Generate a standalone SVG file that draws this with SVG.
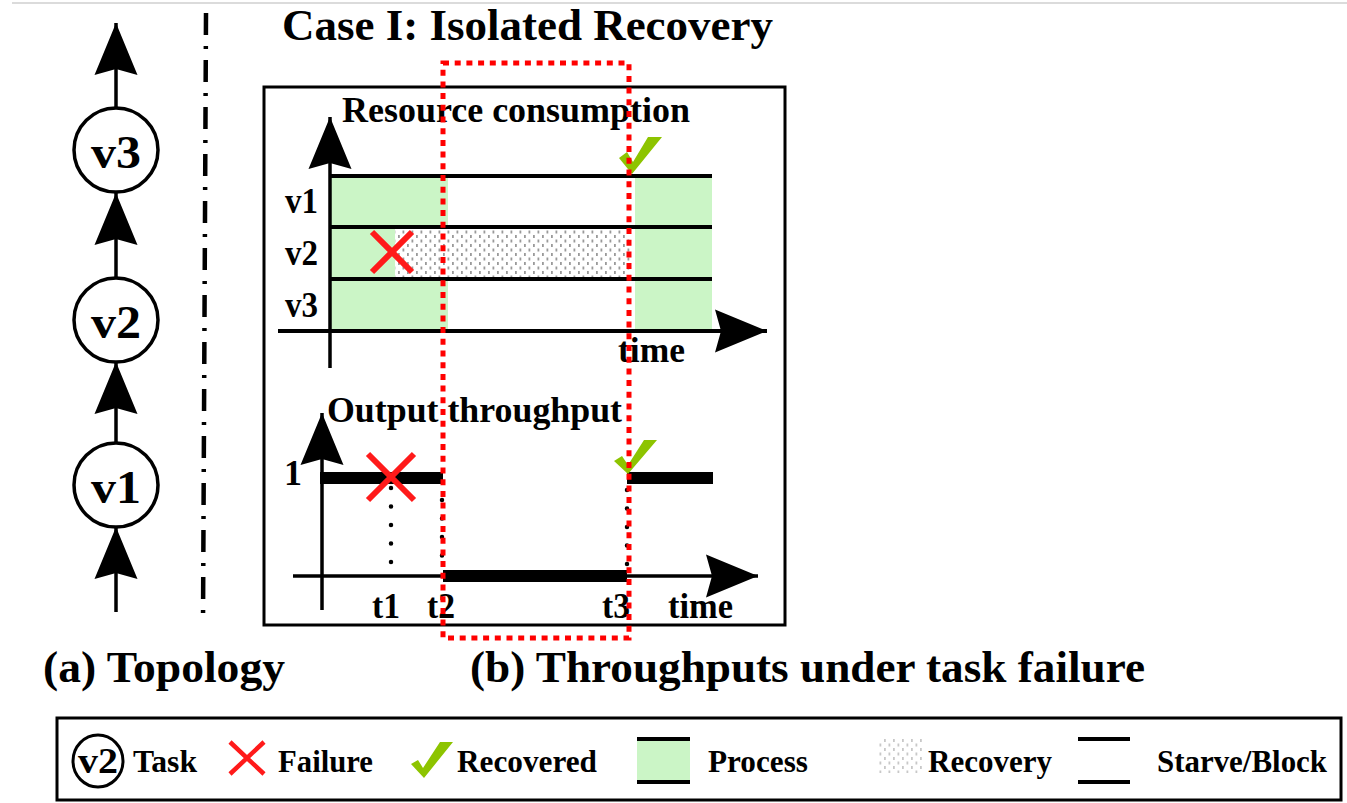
<svg xmlns="http://www.w3.org/2000/svg" width="1347" height="803" viewBox="0 0 1347 803">
<style>
text{font-family:"Liberation Serif","Times New Roman",serif;font-weight:bold;fill:#000}
.t45{font-size:44px}
.t34{font-size:36px}
.t30{font-size:32px}
.node{fill:#fff;stroke:#000;stroke-width:3.5}
.ln{stroke:#000;stroke-width:3.5;fill:none}
.row{stroke:#000;stroke-width:4;fill:none}
.thick{stroke:#000;stroke-width:12;fill:none}
.x{stroke:#ff1a1a;stroke-width:6;fill:none}
.chk{fill:#8dc400}
.green{fill:#cbf5c6}
</style>
<defs>
<marker id="ah" markerUnits="userSpaceOnUse" viewBox="-56 -25 60 50" markerWidth="60" markerHeight="50" refX="0" refY="0" orient="auto">
<path d="M0,0 L-52,-21.5 L-46,0 L-52,21.5 Z" fill="#000"/>
</marker>
<pattern id="dots" patternUnits="userSpaceOnUse" width="9" height="9">
<rect x="2" y="1" width="1.8" height="3" fill="#9a9a9a"/>
<rect x="6.5" y="5.5" width="1.8" height="3" fill="#9a9a9a"/>
</pattern>
<pattern id="dotsL" patternUnits="userSpaceOnUse" width="9" height="9">
<rect x="2" y="1" width="1.8" height="3" fill="#c8c8c8"/>
<rect x="6.5" y="5.5" width="1.8" height="3" fill="#c8c8c8"/>
</pattern>
</defs>
<rect width="1347" height="803" fill="#fff"/>
<line x1="12" y1="3" x2="1347" y2="3" stroke="#cfcfcf" stroke-width="1.5"/>

<!-- topology connectors -->
<g id="connectors">
<line class="ln" x1="116" y1="612" x2="116" y2="527" marker-end="url(#ah)"/>
<line class="ln" x1="116" y1="443" x2="116" y2="362" marker-end="url(#ah)"/>
<line class="ln" x1="116" y1="277" x2="116" y2="193" marker-end="url(#ah)"/>
<line class="ln" x1="116" y1="108" x2="116" y2="23" marker-end="url(#ah)"/>
</g>
<g id="node-v1">
<circle class="node" cx="116" cy="485" r="42"/>
<text x="116" y="503" font-size="46" text-anchor="middle" textLength="50" lengthAdjust="spacingAndGlyphs">v1</text>
</g>
<g id="node-v2">
<circle class="node" cx="116" cy="320" r="42"/>
<text x="116" y="338" font-size="46" text-anchor="middle" textLength="50" lengthAdjust="spacingAndGlyphs">v2</text>
</g>
<g id="node-v3">
<circle class="node" cx="116" cy="150" r="42"/>
<text x="116" y="168" font-size="46" text-anchor="middle" textLength="50" lengthAdjust="spacingAndGlyphs">v3</text>
</g>

<!-- separator -->
<line x1="206" y1="13" x2="203" y2="623" stroke="#000" stroke-width="4.5" stroke-dasharray="22 11 3 11"/>

<!-- title -->
<text class="t45" x="282" y="40" textLength="491" lengthAdjust="spacingAndGlyphs">Case I: Isolated Recovery</text>

<!-- main box -->
<rect x="264" y="87" width="521" height="538" fill="none" stroke="#000" stroke-width="3"/>

<!-- resource consumption chart -->
<g id="resource-chart">
<rect class="green" x="330" y="176" width="118" height="51"/>
<rect class="green" x="330" y="227" width="65" height="52"/>
<rect class="green" x="330" y="279" width="118" height="52"/>
<rect class="green" x="635" y="176" width="77" height="155"/>
<rect x="395" y="229" width="235" height="48" fill="url(#dots)"/>
<line class="row" x1="330" y1="176" x2="712" y2="176"/>
<line class="row" x1="330" y1="227" x2="712" y2="227"/>
<line class="row" x1="330" y1="279" x2="712" y2="279"/>
<line class="ln" x1="330" y1="368" x2="330" y2="117" marker-end="url(#ah)"/>
<line class="row" x1="278" y1="331" x2="767" y2="331" marker-end="url(#ah)"/>
<text class="t34" x="342" y="122" textLength="348" lengthAdjust="spacingAndGlyphs">Resource consumption</text>
<text class="t34" x="285" y="213" textLength="33" lengthAdjust="spacingAndGlyphs">v1</text>
<text class="t34" x="285" y="265" textLength="33" lengthAdjust="spacingAndGlyphs">v2</text>
<text class="t34" x="285" y="317" textLength="33" lengthAdjust="spacingAndGlyphs">v3</text>
<text class="t34" x="618" y="362" textLength="67" lengthAdjust="spacingAndGlyphs">time</text>
<path class="x" d="M372,232 L412,272 M412,232 L372,272"/>
<polygon class="chk" points="619,158 627,152 633,162 648,137 662,137 632,174"/>
</g>

<!-- output throughput chart -->
<g id="throughput-chart">
<line class="ln" x1="322" y1="610" x2="322" y2="413" marker-end="url(#ah)"/>
<line class="ln" x1="293" y1="576" x2="758" y2="576" marker-end="url(#ah)"/>
<line class="thick" x1="320" y1="478" x2="443" y2="478"/>
<line class="thick" x1="627" y1="478" x2="713" y2="478"/>
<line class="thick" x1="443" y1="576" x2="627" y2="576"/>
<g stroke="#000" stroke-width="4.5" stroke-linecap="round" stroke-dasharray="0 18.5">
<line x1="391" y1="488" x2="391" y2="563"/>
<line x1="442" y1="500" x2="442" y2="560"/>
<line x1="627" y1="490" x2="627" y2="565"/>
</g>
<text class="t34" x="327" y="422" textLength="295" lengthAdjust="spacingAndGlyphs">Output throughput</text>
<text class="t34" x="284" y="485">1</text>
<text class="t34" x="372" y="618" textLength="28" lengthAdjust="spacingAndGlyphs">t1</text>
<text class="t34" x="427" y="618" textLength="28" lengthAdjust="spacingAndGlyphs">t2</text>
<text class="t34" x="602" y="618" textLength="28" lengthAdjust="spacingAndGlyphs">t3</text>
<text class="t34" x="668" y="618" textLength="65" lengthAdjust="spacingAndGlyphs">time</text>
<path class="x" d="M368,454 L414,500 M414,454 L368,500" stroke="#ff3535"/>
<polygon class="chk" points="614,461 622,456 628,465 644,440 657,440 628,474"/>
</g>

<!-- red dotted highlight -->
<rect x="443" y="63" width="186" height="575" fill="none" stroke="#ff0000" stroke-width="5" stroke-dasharray="6 5.7"/>

<!-- captions -->
<text class="t45" x="43" y="682" textLength="242" lengthAdjust="spacingAndGlyphs">(a) Topology</text>
<text class="t45" x="470" y="682" textLength="675" lengthAdjust="spacingAndGlyphs">(b) Throughputs under task failure</text>

<!-- legend -->
<g id="legend">
<rect x="57" y="718" width="1284" height="82" fill="none" stroke="#000" stroke-width="3"/>
<ellipse cx="98" cy="761" rx="25" ry="26" fill="#fff" stroke="#000" stroke-width="3"/>
<text x="98" y="773" font-size="35" text-anchor="middle" textLength="40" lengthAdjust="spacingAndGlyphs">v2</text>
<text class="t30" x="133" y="772" textLength="64" lengthAdjust="spacingAndGlyphs">Task</text>
<path d="M230,742 L264,774 M264,742 L230,774" stroke="#ff1a1a" stroke-width="4.5" fill="none"/>
<text class="t30" x="278" y="772" textLength="95" lengthAdjust="spacingAndGlyphs">Failure</text>
<polygon class="chk" points="411,764 418,760 423,768 440,742 453,742 424,778"/>
<text class="t30" x="457" y="772" textLength="140" lengthAdjust="spacingAndGlyphs">Recovered</text>
<rect class="green" x="637" y="739" width="53" height="43"/>
<line x1="637" y1="739" x2="690" y2="739" stroke="#000" stroke-width="4"/>
<line x1="637" y1="782" x2="690" y2="782" stroke="#000" stroke-width="4"/>
<text class="t30" x="708" y="772" textLength="100" lengthAdjust="spacingAndGlyphs">Process</text>
<rect x="877" y="738" width="45" height="35" fill="url(#dotsL)"/>
<text class="t30" x="928" y="772" textLength="124" lengthAdjust="spacingAndGlyphs">Recovery</text>
<line x1="1078" y1="739" x2="1130" y2="739" stroke="#000" stroke-width="4"/>
<line x1="1078" y1="782" x2="1130" y2="782" stroke="#000" stroke-width="4"/>
<text class="t30" x="1157" y="772" textLength="170" lengthAdjust="spacingAndGlyphs">Starve/Block</text>
</g>
</svg>
